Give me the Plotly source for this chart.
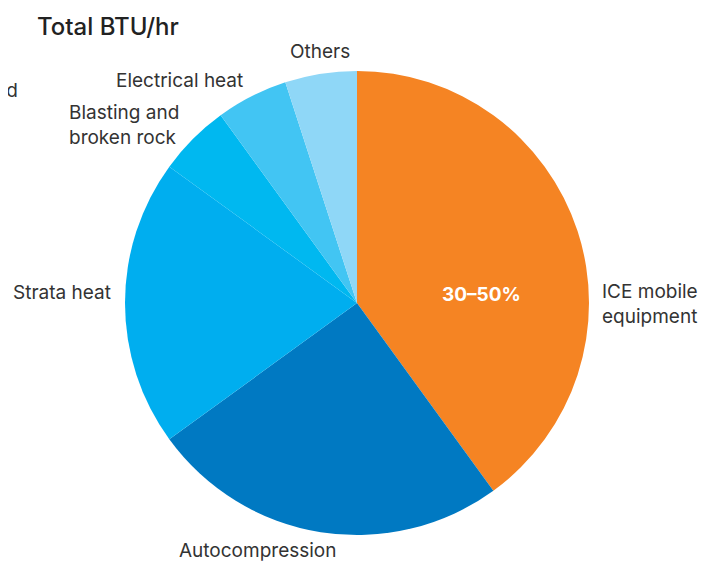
import plotly.graph_objects as go

categories = ["ICE mobile equipment", "Autocompression", "Strata heat",
              "Blasting and broken rock", "Electrical heat", "Others"]
values = [40, 25, 20, 5, 5, 5]
colors = ["#F58423", "#0079C2", "#00AEEF", "#00B8F0", "#42C5F3", "#8FD7F7"]

W, H = 714, 561
OFF = 8  # page body margin offset
cx, cy, r = 357 - OFF, 303 - OFF, 232

fig = go.Figure(go.Pie(
    labels=categories, values=values, sort=False, direction="clockwise",
    rotation=0, textinfo="none", hoverinfo="label+percent",
    marker=dict(colors=colors, line=dict(width=0)),
    domain=dict(x=[(cx - r) / W, (cx + r) / W], y=[1 - (cy + r) / H, 1 - (cy - r) / H]),
    showlegend=False,
))

font = "Inter, Roboto, sans-serif"
def px(x): return (x - OFF) / W
def py(y): return 1 - (y - OFF) / H

lab = dict(size=19, color="#333", family=font)
anns = [
    dict(text="Total BTU/hr", x=px(35), y=py(26), xanchor="left", yanchor="middle",
         font=dict(size=24, color="#222", family=font, weight=500)),
    dict(text="nd", x=px(20), y=py(90), xanchor="right", yanchor="middle", font=lab),
    dict(text="Others", x=px(320), y=py(52), xanchor="center", yanchor="middle", font=lab),
    dict(text="Electrical heat", x=px(179), y=py(80), xanchor="center", yanchor="middle", font=lab),
    dict(text="Blasting and<br>broken rock", x=px(67), y=py(125), xanchor="left", yanchor="middle",
         align="left", font=lab),
    dict(text="Strata heat", x=px(11), y=py(292), xanchor="left", yanchor="middle", font=lab),
    dict(text="<b>30–50%</b>", x=px(481), y=py(294), xanchor="center", yanchor="middle",
         font=dict(size=19, color="white", family=font)),
    dict(text="ICE mobile<br>equipment", x=px(600), y=py(304), xanchor="left", yanchor="middle",
         align="left", font=lab),
    dict(text="Autocompression", x=px(257), y=py(550), xanchor="center", yanchor="middle", font=lab),
]
for a in anns:
    a.update(xref="paper", yref="paper", showarrow=False)

fig.update_layout(width=W, height=H, margin=dict(l=0, r=0, t=0, b=0),
                  paper_bgcolor="white", plot_bgcolor="white", annotations=anns)
fig.write_html("out.html")
